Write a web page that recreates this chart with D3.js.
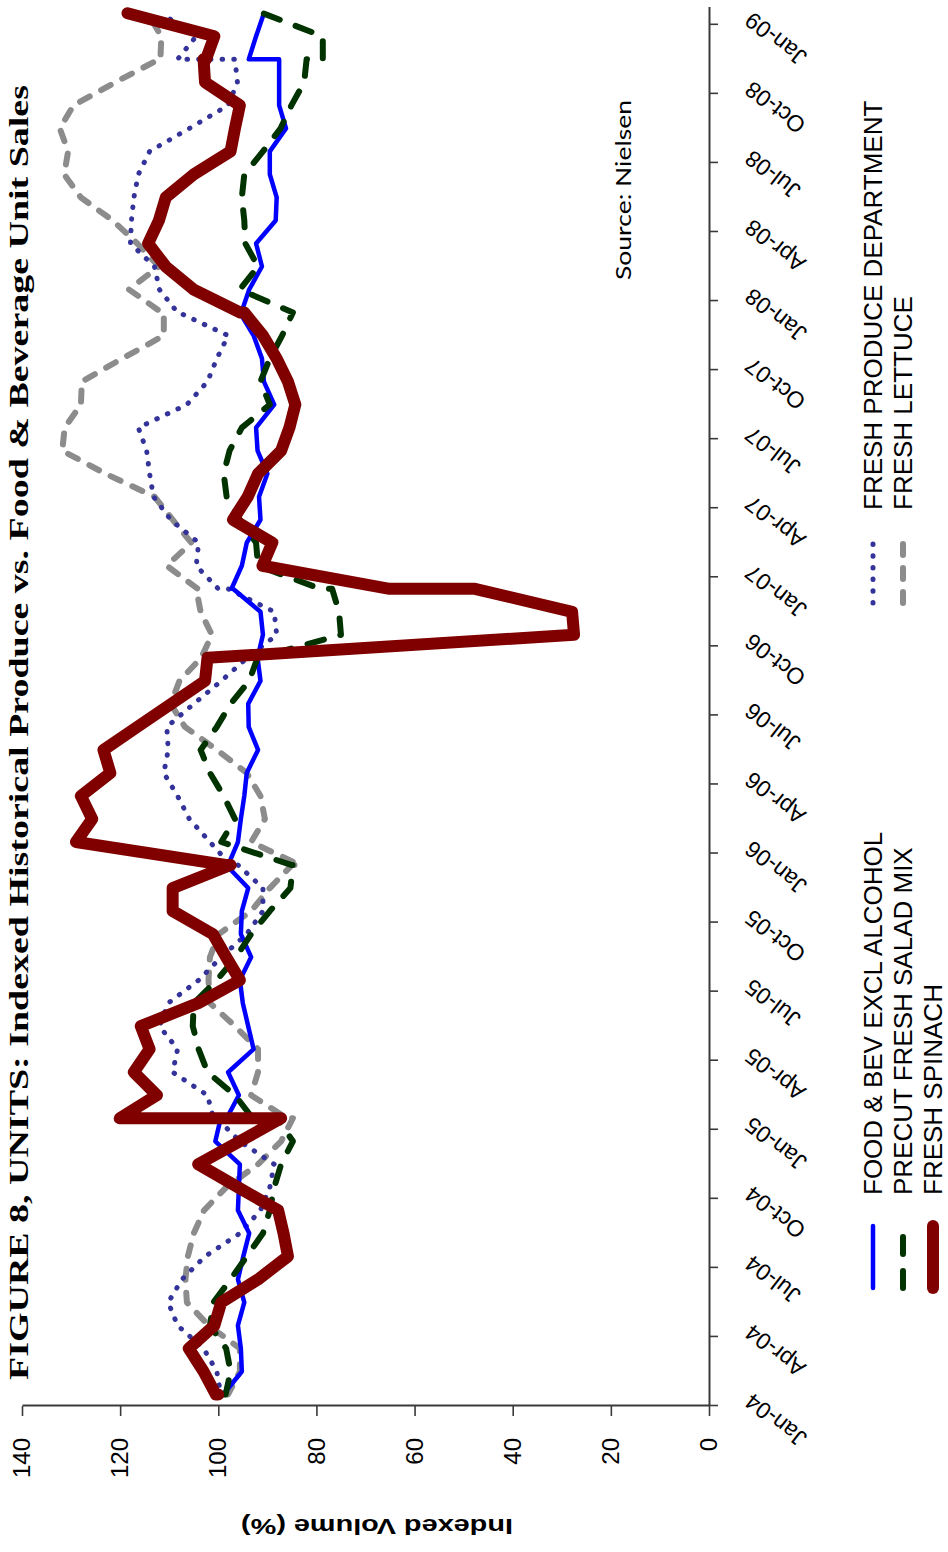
<!DOCTYPE html>
<html><head><meta charset="utf-8">
<script src="https://cdn.jsdelivr.net/npm/d3@7"></script>
<style>html,body{margin:0;padding:0;background:#fff;overflow:hidden}</style>
</head><body>
<svg id="c" width="948" height="1552" xmlns="http://www.w3.org/2000/svg"></svg>
<script>
// ---- DATA (4-week periods, plotted on a monthly date axis) ----
const periodEnd = [
"2004-01-03","2004-01-31","2004-02-28","2004-03-27","2004-04-24","2004-05-22","2004-06-19","2004-07-17","2004-08-14","2004-09-11","2004-10-09","2004-11-06","2004-12-04",
"2005-01-01","2005-01-29","2005-02-26","2005-03-26","2005-04-23","2005-05-21","2005-06-18","2005-07-16","2005-08-13","2005-09-10","2005-10-08","2005-11-05","2005-12-03","2005-12-31",
"2006-01-28","2006-02-25","2006-03-25","2006-04-22","2006-05-20","2006-06-17","2006-07-15","2006-08-12","2006-09-09","2006-10-07","2006-11-04","2006-12-02","2006-12-30",
"2007-01-27","2007-02-24","2007-03-24","2007-04-21","2007-05-19","2007-06-16","2007-07-14","2007-08-11","2007-09-08","2007-10-06","2007-11-03","2007-12-01","2007-12-29",
"2008-01-26","2008-02-23","2008-03-22","2008-04-19","2008-05-17","2008-06-14","2008-07-12","2008-08-09","2008-09-06","2008-10-04","2008-11-01","2008-11-29","2008-12-27",
"2009-01-24"];

const foodBev = [99.5,99,95.2,95.4,96,94.7,96,94.9,93.7,96,95.8,95.6,100.6,99.5,98.3,95.8,98,92.8,93.9,95,95.6,93.3,95.4,95.2,93.9,98.4,98,96,95.4,94.7,94.2,91.9,93.8,93.9,91.4,92,90.9,91.4,97,97.3,95.2,94.2,91.4,91.7,90,92,92.3,88.6,90.7,91.1,92.8,95.6,95.3,93.7,91.1,92.3,88.3,88.1,89.5,89.5,86.2,87.6,87.6,87.6,93.8,92.3,90.7];
const precutSalad = [99,98.5,97.5,98.4,101.7,101,97.5,94.2,90.9,89.5,88.6,87.2,84.8,88,93,96.6,102.2,104,105.2,105,100.3,96.4,93.3,89.5,85.3,84.8,85,99.4,96.6,98.9,101.7,103.6,100.3,97.5,93.7,92,75,75.4,76.8,79.2,91.9,92.3,95.6,98.3,98.9,97.7,95.2,89.5,91.4,89.5,87,84.8,84.8,95.6,91.9,94.5,94.7,95.2,94.7,90.9,87.3,85.1,82.5,82,78.7,78.7,90.9];
const freshSpinach = [100,100.5,103,106,100.8,99.4,91.9,85.8,86.7,87.8,96,104.1,95.6,87.2,120.1,112.5,117.2,114,115.8,104.1,95.6,98.4,101.1,109.3,109.3,97.5,98.5,129,125.7,128,122,123.4,116.5,109.6,102.7,102.2,27.5,27.9,47.7,65.1,91,89,97,94,91.9,87.2,85.5,84.3,85.8,88.1,90.9,94.7,95.5,105,110.7,114.3,112.1,110.7,105,97.5,96.6,95.6,102.7,103,102.5,100.8,118.5];
const produceDept = [99,99.5,100.3,103,108.3,110.2,107.4,102.7,95.6,91.4,89.5,88.6,95.6,100.3,101,102.2,109.3,108.3,112,110.2,104,99.4,94.2,90.9,90.9,96,97.5,101.7,105.9,108.3,111.1,110.2,110.5,105,99.4,94.1,88.1,88.6,98,100,104.5,104,109.7,113.2,114,114.6,116.3,106.4,102.2,100.3,98,108,108.3,112,113,117.9,117.7,117.2,116.3,114,105.9,98,96.1,96.6,108.3,104.5,111.6];
const freshLettuce = [98.4,98,95.6,95.6,102,106.4,106.7,106.2,105,102.9,98.4,91.9,87.2,84.8,86,93.3,91.9,91.9,96.6,101.7,102,101.7,99.9,93.3,89.5,85,83.4,93.3,90.5,91.4,94.2,100.3,106.8,109.7,107.9,103.5,101.3,103.6,104.5,104.2,110.5,105.5,109.3,113,123,131.8,131.3,128,127.8,119.6,111.1,111.1,111.5,118.2,112.1,116.5,121.5,128,131.4,130.6,132.3,129.5,121,112.1,111.8,111.6,114.4];

const tickLabels = ["Jan-04","Apr-04","Jul-04","Oct-04","Jan-05","Apr-05","Jul-05","Oct-05","Jan-06","Apr-06","Jul-06","Oct-06","Jan-07","Apr-07","Jul-07","Oct-07","Jan-08","Apr-08","Jul-08","Oct-08","Jan-09"];
const valueTicks = [0,20,40,60,80,100,120,140];
const seriesNames = ["FOOD & BEV EXCL ALCOHOL","PRECUT FRESH SALAD MIX","FRESH SPINACH","FRESH PRODUCE DEPARTMENT","FRESH LETTUCE"];
const titleText = "FIGURE 8, UNITS: Indexed Historical Produce vs. Food & Beverage Unit Sales";
const yTitle = "Indexed Volume (%)";
const sourceText = "Source: Nielsen";

// ---- CHART (drawn in landscape, then turned a quarter turn) ----
const W = 1552, H = 948;
const svg = d3.select("#c");
svg.append("rect").attr("width",948).attr("height",1552).attr("fill","#fff");
const root = svg.append("g").attr("transform", `translate(0,${W}) rotate(-90)`);

const parse = d3.timeParse("%Y-%m-%d");
const monthIdx = periodEnd.map(s => { const d = parse(s); return (d.getFullYear()-2004)*12 + d.getMonth(); });

const x = d3.scaleLinear().domain([0, 60.75]).range([146, 146 + 60.75*23.02]);
const y = d3.scaleLinear().domain([0, 140]).range([709, 22]);

const axisColor = "#3a3a3a";
const sans = "'Liberation Sans', Arial, sans-serif";

// title
root.append("text").attr("x", 172).attr("y", 28)
  .attr("font-family","'Liberation Serif','Times New Roman',serif").attr("font-weight","bold")
  .attr("font-size", 28).attr("textLength", 1295).attr("lengthAdjust","spacingAndGlyphs")
  .attr("fill","#000").text(titleText);

// value axis
const yAxis = d3.axisLeft(y).tickValues(valueTicks).tickSize(10).tickPadding(22).tickSizeOuter(0);
const gy = root.append("g").attr("transform", `translate(${x(0)},0)`).call(yAxis);
gy.select(".domain").attr("stroke", axisColor).attr("stroke-width", 2);
gy.selectAll(".tick line").attr("stroke", axisColor).attr("stroke-width", 1.6);
gy.selectAll(".tick text").attr("font-family", sans).attr("font-size", 24).attr("fill","#000");

// time axis
const tickMonths = tickLabels.map((t,i) => i*3);
const xAxis = d3.axisBottom(x).tickValues(tickMonths).tickFormat((d,i) => tickLabels[i]).tickSize(9).tickSizeOuter(0);
const gx = root.append("g").attr("transform", `translate(0,${y(0)})`).call(xAxis);
gx.select(".domain").attr("stroke", axisColor).attr("stroke-width", 2);
gx.selectAll(".tick line").attr("stroke", axisColor).attr("stroke-width", 1.6);
gx.selectAll(".tick text").attr("font-family", sans).attr("font-size", 23).attr("fill","#000")
  .attr("x",0).attr("y",0).attr("dy","0.35em").attr("text-anchor","end")
  .attr("transform","translate(7,39) rotate(-52)");

// y title
root.append("text").attr("transform", `translate(33,377) rotate(-90)`)
  .attr("text-anchor","middle").attr("font-family", sans).attr("font-weight","bold")
  .attr("font-size", 22).attr("textLength", 272).attr("lengthAdjust","spacingAndGlyphs")
  .text(yTitle);

// source
root.append("text").attr("x", 1272).attr("y", 631)
  .attr("font-family","Lato,'Open Sans',sans-serif").attr("font-size", 22)
  .attr("textLength", 180).attr("lengthAdjust","spacingAndGlyphs").text(sourceText);

// series styles
const styles = {
  food:    {color:"#0000ff", width:4.5, dash:null, cap:"round"},
  precut:  {color:"#003300", width:6,   dash:"17,17", cap:"round"},
  spinach: {color:"#800000", width:12,  dash:null, cap:"round"},
  produce: {color:"#333399", width:5,   dash:"0.5,11.2", cap:"round"},
  lettuce: {color:"#8c8c8c", width:6,   dash:"11,13", cap:"round"}
};
const series = [
  {key:"lettuce", name:seriesNames[4], values:freshLettuce},
  {key:"produce", name:seriesNames[3], values:produceDept},
  {key:"food",    name:seriesNames[0], values:foodBev},
  {key:"precut",  name:seriesNames[1], values:precutSalad},
  {key:"spinach", name:seriesNames[2], values:freshSpinach}
];
const line = d3.line().x((d,i) => x(monthIdx[i] + 0.5)).y(d => y(d));
const gl = root.append("g");
series.forEach(s => {
  const st = styles[s.key];
  gl.append("path").datum(s.values).attr("d", line)
    .attr("fill","none").attr("stroke", st.color).attr("stroke-width", st.width)
    .attr("stroke-linejoin","round").attr("stroke-linecap", st.cap)
    .attr("stroke-dasharray", st.dash);
});

// legend
const legendItems = [
  {key:"food", name:seriesNames[0], col:0, row:0},
  {key:"produce", name:seriesNames[3], col:1, row:0},
  {key:"precut", name:seriesNames[1], col:0, row:1},
  {key:"lettuce", name:seriesNames[4], col:1, row:1},
  {key:"spinach", name:seriesNames[2], col:0, row:2}
];
const colX = [264, 949], rowY = [882, 912, 942];
const lg = root.append("g");
legendItems.forEach(it => {
  const st = styles[it.key];
  const lx = colX[it.col], ly = rowY[it.row];
  lg.append("line").attr("x1", lx).attr("x2", lx + 62).attr("y1", ly - 9).attr("y2", ly - 9)
    .attr("stroke", st.color).attr("stroke-width", st.width).attr("stroke-linecap", st.cap)
    .attr("stroke-dasharray", st.dash);
  lg.append("text").attr("x", lx + 93).attr("y", ly).attr("font-family", sans)
    .attr("font-size", 26).attr("fill","#000").text(it.name);
});
</script>
</body></html>
